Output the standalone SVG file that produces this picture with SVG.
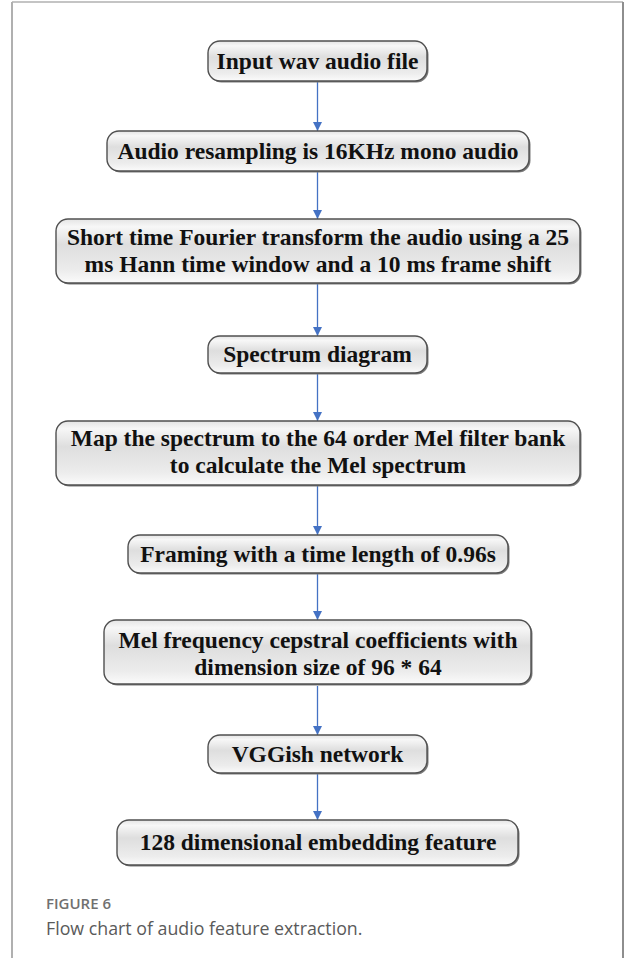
<svg xmlns="http://www.w3.org/2000/svg" width="625" height="958" viewBox="0 0 625 958">
  <style>
    .box { fill: url(#boxFill); stroke: #505050; stroke-width: 1.4; }
    .shadow { fill: #7a7a7a; }
    .label { font-family: "Liberation Serif", "Times New Roman", serif; font-weight: bold; font-size: 23.5px; fill: #111; text-anchor: middle; }
    .link { stroke: #4472c4; stroke-width: 1.3; fill: none; marker-end: url(#arrow); }
    .frame { stroke-width: 2; fill: none; }
    .capHead { font-family: "Open Sans", "Noto Sans", sans-serif; font-size: 15px; font-weight: 600; fill: #707070; }
    .capText { font-family: "Open Sans", "Noto Sans", sans-serif; font-size: 17.8px; fill: #5a5a5a; }
  </style>
  <defs>
    <linearGradient id="boxFill" x1="0" y1="0" x2="0" y2="1">
      <stop offset="0" stop-color="#e4e4e4"/>
      <stop offset="0.12" stop-color="#f7f7f7"/>
      <stop offset="0.4" stop-color="#dedede"/>
      <stop offset="0.8" stop-color="#ececec"/>
      <stop offset="1" stop-color="#fbfbfb"/>
    </linearGradient>
    <marker id="arrow" viewBox="0 0 10 10" refX="10" refY="5" markerWidth="9" markerHeight="9" markerUnits="userSpaceOnUse" orient="auto">
      <path d="M0,0 L10,5 L0,10 z" fill="#4472c4"/>
    </marker>
  </defs>

  <rect width="625" height="958" fill="#ffffff"/>

  <!-- page frame -->
  <g id="frame">
    <line class="frame" x1="12" y1="2" x2="623" y2="2" stroke="#c4c4c4"/>
    <line class="frame" x1="12" y1="2" x2="12" y2="958" stroke="#b0b0b0"/>
    <line class="frame" x1="623" y1="2" x2="623" y2="958" stroke="#8e8e8e"/>
  </g>

  <!-- connectors -->
  <g id="connectors">
    <line class="link" x1="317.5" y1="82" x2="317.5" y2="131"/>
    <line class="link" x1="317.5" y1="172" x2="317.5" y2="219"/>
    <line class="link" x1="317.5" y1="284" x2="317.5" y2="336"/>
    <line class="link" x1="317.5" y1="374" x2="317.5" y2="421"/>
    <line class="link" x1="317.5" y1="486" x2="317.5" y2="535"/>
    <line class="link" x1="317.5" y1="574" x2="317.5" y2="620"/>
    <line class="link" x1="317.5" y1="686" x2="317.5" y2="735"/>
    <line class="link" x1="317.5" y1="774" x2="317.5" y2="820"/>
  </g>

  <g id="n1">
    <rect class="shadow" x="209.5" y="42.5" width="219" height="40" rx="12"/>
    <rect class="box" x="208" y="41" width="219" height="40" rx="12"/>
    <text class="label" x="317.5" y="69">Input wav audio file</text>
  </g>

  <g id="n2">
    <rect class="shadow" x="108.5" y="132.5" width="422" height="40" rx="12"/>
    <rect class="box" x="107" y="131" width="422" height="40" rx="12"/>
    <text class="label" x="318" y="159">Audio resampling is 16KHz mono audio</text>
  </g>

  <g id="n3">
    <rect class="shadow" x="57.5" y="220.5" width="524" height="64" rx="12"/>
    <rect class="box" x="56" y="219" width="524" height="64" rx="12"/>
    <text class="label" x="318" y="245">Short time Fourier transform the audio using a 25</text>
    <text class="label" x="318" y="272">ms Hann time window and a 10 ms frame shift</text>
  </g>

  <g id="n4">
    <rect class="shadow" x="209.5" y="337.5" width="219" height="37" rx="12"/>
    <rect class="box" x="208" y="336" width="219" height="37" rx="12"/>
    <text class="label" x="317.5" y="362">Spectrum diagram</text>
  </g>

  <g id="n5">
    <rect class="shadow" x="57.5" y="422.5" width="524" height="64" rx="12"/>
    <rect class="box" x="56" y="421" width="524" height="64" rx="12"/>
    <text class="label" x="318" y="446">Map the spectrum to the 64 order Mel filter bank</text>
    <text class="label" x="318" y="473">to calculate the Mel spectrum</text>
  </g>

  <g id="n6">
    <rect class="shadow" x="129.5" y="536.5" width="380" height="38" rx="12"/>
    <rect class="box" x="128" y="535" width="380" height="38" rx="12"/>
    <text class="label" x="318" y="562">Framing with a time length of 0.96s</text>
  </g>

  <g id="n7">
    <rect class="shadow" x="105.5" y="621.5" width="427" height="64" rx="12"/>
    <rect class="box" x="104" y="620" width="427" height="64" rx="12"/>
    <text class="label" x="318" y="648">Mel frequency cepstral coefficients with</text>
    <text class="label" x="318" y="675">dimension size of 96 * 64</text>
  </g>

  <g id="n8">
    <rect class="shadow" x="209.5" y="736.5" width="219" height="38" rx="12"/>
    <rect class="box" x="208" y="735" width="219" height="38" rx="12"/>
    <text class="label" x="317.5" y="762">VGGish network</text>
  </g>

  <g id="n9">
    <rect class="shadow" x="118.5" y="821.5" width="401" height="45" rx="12"/>
    <rect class="box" x="117" y="820" width="401" height="45" rx="12"/>
    <text class="label" x="318" y="850">128 dimensional embedding feature</text>
  </g>

  <!-- caption -->
  <g id="caption">
    <text class="capHead" x="46" y="909">FIGURE 6</text>
    <text class="capText" x="46" y="935">Flow chart of audio feature extraction.</text>
  </g>
</svg>
